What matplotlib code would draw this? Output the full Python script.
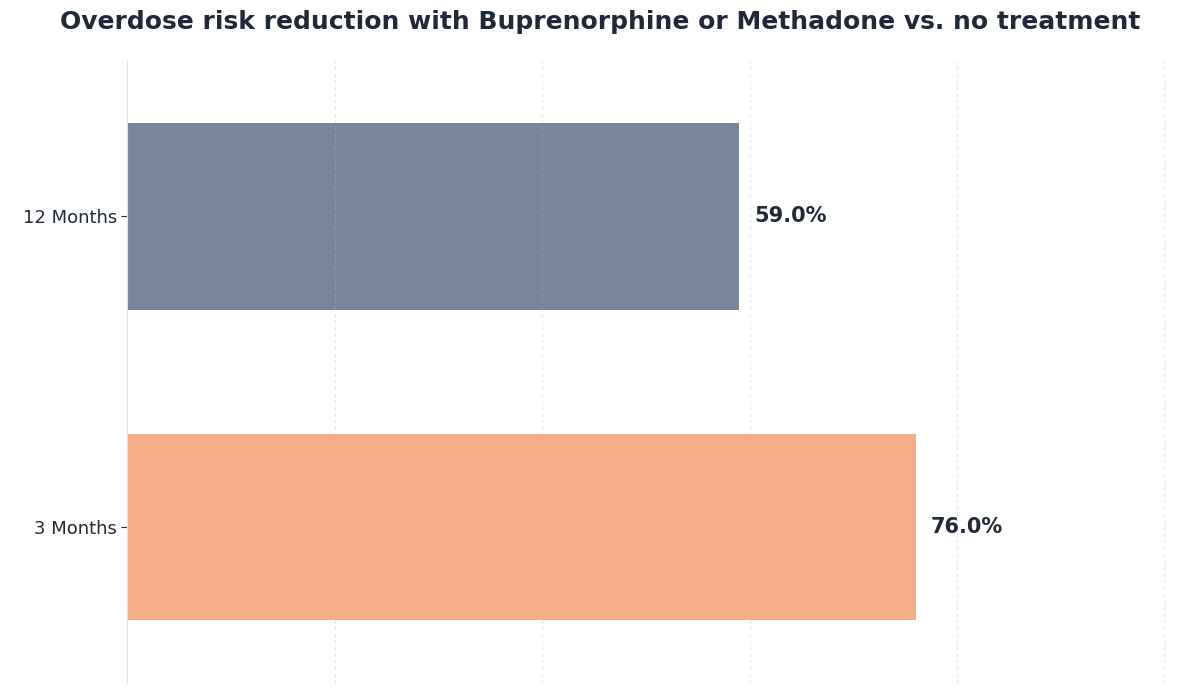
import matplotlib
matplotlib.use("Agg")
import matplotlib.pyplot as plt

categories = ["3 Months", "12 Months"]
values = [76.0, 59.0]
colors = ["#f5ae88", "#788699"]

fig = plt.figure(figsize=(12, 6.93), dpi=100)
ax = fig.add_axes([0.106, 0.015, 0.886, 0.897])
bars = ax.barh(categories, values, height=0.6, color=colors, zorder=1)
ax.set_xlim(0, 102.5)
ax.set_ylim(-0.5, 1.5)
for x in [20, 40, 60, 80, 100]:
    ax.axvline(x, color="#b0b8c8", lw=0.8, ls=(0, (3, 3)), alpha=0.35, zorder=2)
for b, v in zip(bars, values):
    ax.text(v + 1.5, b.get_y() + b.get_height() / 2, f"{v:.1f}%", va="center",
            ha="left", fontsize=15, fontweight="bold", color="#1f2937")
for s in ["top", "right", "bottom"]:
    ax.spines[s].set_visible(False)
ax.spines["left"].set_color("#e0e3ee")
ax.set_xticks([])
ax.tick_params(axis="y", labelsize=13, colors="#1f2937", length=4)
for t in ax.get_yticklabels():
    t.set_color("#1f2937")
fig.suptitle("Overdose risk reduction with Buprenorphine or Methadone vs. no treatment",
             x=0.5, y=0.985, fontsize=18, fontweight="bold", color="#1f2937")
fig.savefig("out.png", dpi=100)
